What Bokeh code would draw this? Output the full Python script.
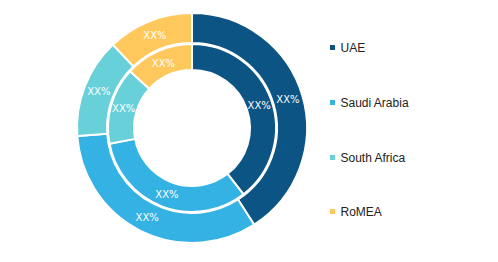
import numpy as np
from bokeh.plotting import figure
from bokeh.models import ColumnDataSource, Range1d
from bokeh.core.properties import value
from bokeh.embed import file_html
from bokeh.resources import INLINE

categories = ["UAE", "Saudi Arabia", "South Africa", "RoMEA"]
outer_values = [40.9, 33.0, 14.0, 12.1]
inner_values = [39.5, 32.5, 14.8, 13.2]
outer_labels = ["XX%", "XX%", "XX%", "XX%"]
inner_labels = ["XX%", "XX%", "XX%", "XX%"]
colors = ["#0B5483", "#35B2E4", "#67D0D9", "#FFC85C"]

W, H = 498, 262
cx, cy = 191.5, H - 127.5
p = figure(width=W, height=H, output_backend="svg", toolbar_location=None,
           x_range=Range1d(0, W), y_range=Range1d(0, H), min_border=0)
p.axis.visible = False
p.grid.visible = False
p.outline_line_color = None
p.background_fill_color = "white"
p.border_fill_color = "white"


def ring(vals, r_in, r_out, labels, r_lab):
    v = np.array(vals, dtype=float)
    frac = v / v.sum()
    cum = np.concatenate([[0], np.cumsum(frac)])
    start = np.pi / 2 - cum[:-1] * 2 * np.pi
    end = np.pi / 2 - cum[1:] * 2 * np.pi
    mid = (start + end) / 2
    src = ColumnDataSource(dict(start=start, end=end, color=colors,
                                lx=cx + r_lab * np.cos(mid), ly=cy + r_lab * np.sin(mid),
                                lab=labels))
    p.annular_wedge(x=cx, y=cy, inner_radius=r_in, outer_radius=r_out,
                    start_angle="start", end_angle="end", direction="clock",
                    fill_color="color", line_color="white", line_width=2, source=src)
    p.text(x="lx", y="ly", text="lab", source=src, text_color="white",
           text_font=value("DejaVu Sans"), text_font_size="10px",
           text_align="center", text_baseline="middle")


ring(outer_values, 85, 115, outer_labels, 100)
ring(inner_values, 58, 84, inner_labels, 71)

ly = [H - 47, H - 102, H - 157, H - 211]
leg = ColumnDataSource(dict(x=[332] * 4, y=ly, tx=[340] * 4, c=colors, t=categories))
p.rect(x="x", y="y", width=5, height=5, fill_color="c", line_color=None, source=leg)
p.text(x="tx", y="y", text="t", source=leg, text_color="#222222",
       text_font=value("Liberation Sans"), text_font_size="12px",
       text_align="left", text_baseline="middle")

open("out.html", "w").write(file_html(p, INLINE))
